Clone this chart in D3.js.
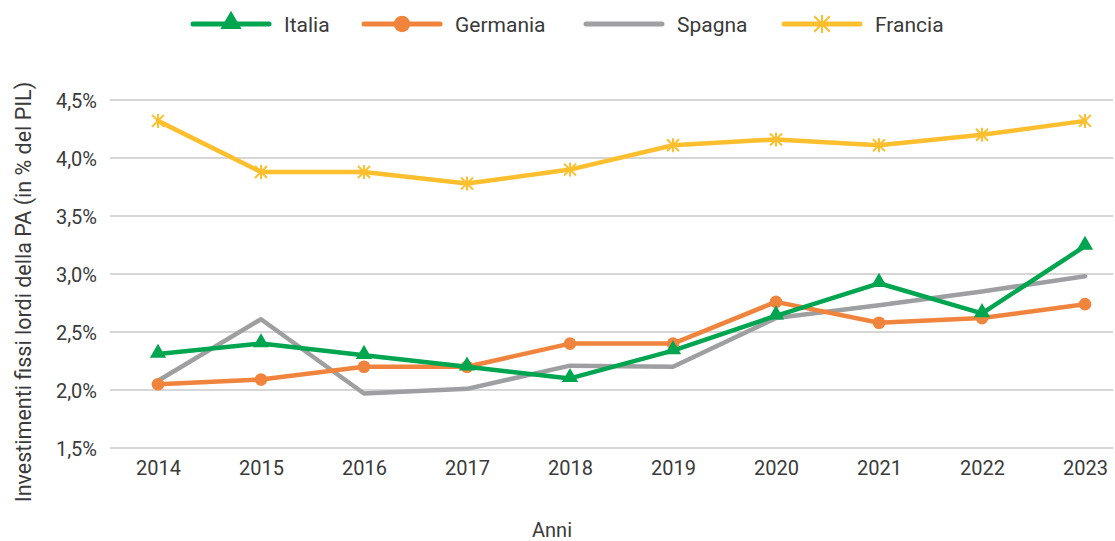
<!DOCTYPE html>
<html>
<head>
<meta charset="utf-8">
<script src="https://cdn.jsdelivr.net/npm/d3@7"></script>
<style>
  body { margin: 0; background: #fff; }
  text { font-family: "Roboto", "Open Sans", sans-serif; fill: #3a3a3a; }
</style>
</head>
<body>
<svg id="chart" width="1115" height="541"></svg>
<script>
const years = ["2014", "2015", "2016", "2017", "2018", "2019", "2020", "2021", "2022", "2023"];
const italia   = [2.31, 2.40, 2.30, 2.20, 2.10, 2.34, 2.64, 2.92, 2.66, 3.24];
const germania = [2.05, 2.09, 2.20, 2.20, 2.40, 2.40, 2.76, 2.58, 2.62, 2.74];
const spagna   = [2.08, 2.61, 1.97, 2.01, 2.21, 2.20, 2.62, 2.73, 2.85, 2.98];
const francia  = [4.32, 3.88, 3.88, 3.78, 3.90, 4.11, 4.16, 4.11, 4.20, 4.32];
const yTicks = [1.5, 2.0, 2.5, 3.0, 3.5, 4.0, 4.5];

const series = [
  { name: "Italia", values: italia, color: "#00A550", marker: "triangle" },
  { name: "Germania", values: germania, color: "#F0843C", marker: "circle" },
  { name: "Spagna", values: spagna, color: "#9D9FA0", marker: "none" },
  { name: "Francia", values: francia, color: "#FDBF2D", marker: "asterisk" }
];

const svg = d3.select("#chart");
const margin = { left: 110, right: 1113, top: 100, bottom: 448 };

const x = d3.scalePoint()
  .domain(years)
  .range([158, 1085]);

const y = d3.scaleLinear()
  .domain([1.5, 4.5])
  .range([margin.bottom, margin.top]);

const fmt = v => d3.format(".1f")(v).replace(".", ",") + "%";

// grid
svg.append("g")
  .selectAll("line")
  .data(yTicks)
  .join("line")
  .attr("x1", margin.left)
  .attr("x2", margin.right)
  .attr("y1", d => y(d))
  .attr("y2", d => y(d))
  .attr("stroke", "#c8c8c8")
  .attr("stroke-width", 1.3);

// y axis labels
const yAxis = svg.append("g")
  .attr("transform", `translate(${margin.left - 13},0)`)
  .call(d3.axisLeft(y).tickValues(yTicks).tickFormat(fmt).tickSize(0).tickPadding(0));
yAxis.select(".domain").remove();
yAxis.selectAll("text")
  .style("font-size", "20px")
  .attr("dy", "0.35em");

// x axis labels
const xAxis = svg.append("g")
  .attr("transform", `translate(0,${margin.bottom})`)
  .call(d3.axisBottom(x).tickSize(0).tickPadding(13));
xAxis.select(".domain").remove();
xAxis.selectAll("text")
  .style("font-size", "20px");

// axis titles
svg.append("text")
  .attr("x", 552)
  .attr("y", 537)
  .attr("text-anchor", "middle")
  .style("font-size", "20px")
  .text("Anni");

svg.append("text")
  .attr("transform", "translate(31,292) rotate(-90)")
  .attr("text-anchor", "middle")
  .style("font-size", "21.5px")
  .text("Investimenti fissi lordi della PA (in % del PIL)");

const line = d3.line()
  .x((d, i) => x(years[i]))
  .y(d => y(d));

function drawMarker(g, s, px, py, k) {
  if (s.marker === "triangle") {
    g.append("path")
      .attr("d", d3.symbol().type(d3.symbolTriangle).size(115 * k * k)())
      .attr("transform", `translate(${px},${py - 1})`)
      .attr("fill", s.color);
  } else if (s.marker === "circle") {
    g.append("circle")
      .attr("cx", px)
      .attr("cy", py)
      .attr("r", 6.3 * k)
      .attr("fill", s.color);
  } else if (s.marker === "asterisk") {
    const a = 6 * k, b = 7 * k;
    g.append("path")
      .attr("d", `M${-a},${-a}L${a},${a}M${a},${-a}L${-a},${a}M0,${-b}L0,${b}`)
      .attr("transform", `translate(${px},${py})`)
      .attr("stroke", s.color)
      .attr("stroke-width", 2)
      .attr("fill", "none");
  }
}

// series (Italia drawn last so it sits on top)
const drawOrder = [series[3], series[2], series[1], series[0]];
drawOrder.forEach(s => {
  const g = svg.append("g");
  g.append("path")
    .datum(s.values)
    .attr("d", line)
    .attr("fill", "none")
    .attr("stroke", s.color)
    .attr("stroke-width", 4.5)
    .attr("stroke-linejoin", "round")
    .attr("stroke-linecap", "round");
  s.values.forEach((v, i) => drawMarker(g, s, x(years[i]), y(v), 1));
});

// legend
const legendX = [191, 362, 584, 782];
const legend = svg.append("g");
series.forEach((s, i) => {
  const g = legend.append("g").attr("transform", `translate(${legendX[i]},24)`);
  g.append("line")
    .attr("x1", 2)
    .attr("x2", 78)
    .attr("stroke", s.color)
    .attr("stroke-width", 5)
    .attr("stroke-linecap", "round");
  drawMarker(g, s, 40, 0, 1.3);
  g.append("text")
    .attr("x", 93)
    .attr("y", 1)
    .attr("dy", "0.35em")
    .style("font-size", "21px")
    .text(s.name);
});
</script>
</body>
</html>
